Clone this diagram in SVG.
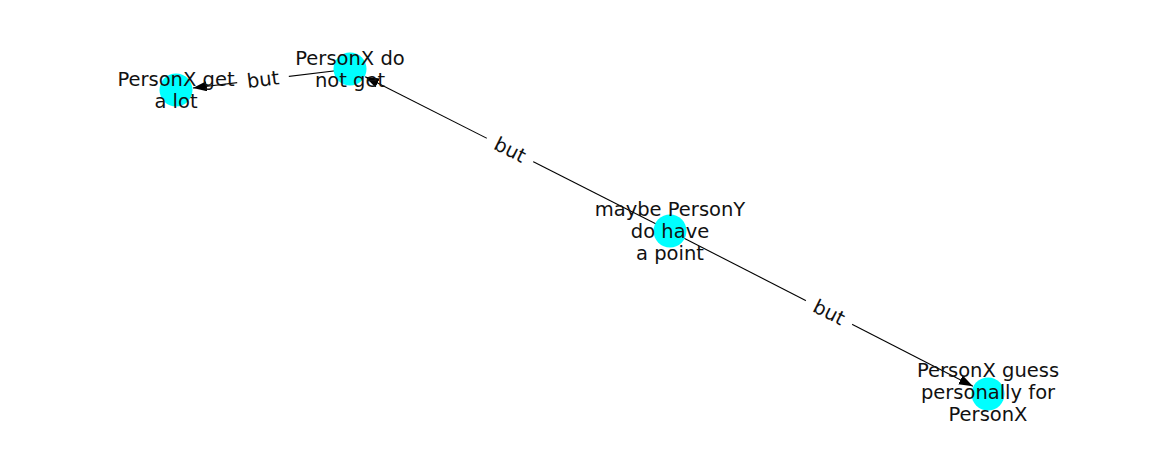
<svg xmlns="http://www.w3.org/2000/svg" width="1162" height="462" viewBox="0 0 1162 462">
<style>
.edge{stroke:#000;stroke-width:1.1;fill:none}
.node circle{fill:#00ffff}
text{font-family:"DejaVu Sans",sans-serif;font-size:19.5px;fill:#111;text-anchor:middle;dominant-baseline:central}
.lblbg{fill:#fff}
</style>
<defs>
<marker id="arr" markerUnits="userSpaceOnUse" markerWidth="16" markerHeight="12" refX="14" refY="5" orient="auto" viewBox="0 0 16 12">
<path d="M0,0 L14,5 L0,10 z" fill="#000"/>
</marker>
</defs>
<rect width="1162" height="462" fill="#fff"/>
<g id="edges">
<line class="edge" x1="350" y1="69" x2="192.9" y2="88" marker-end="url(#arr)"/>
<line class="edge" x1="670" y1="231" x2="365.2" y2="76.7" marker-end="url(#arr)"/>
<line class="edge" x1="670" y1="231" x2="972.9" y2="386.2" marker-end="url(#arr)"/>
</g>
<g id="nodes">
<g id="n_get_a_lot" class="node"><circle cx="176" cy="90" r="16.5"/></g>
<g id="n_do_not_get" class="node"><circle cx="350" cy="69" r="16.5"/></g>
<g id="n_maybe" class="node"><circle cx="670" cy="231" r="16.5"/></g>
<g id="n_guess" class="node"><circle cx="988" cy="394" r="16.5"/></g>
</g>
<g id="edge-labels">
<g transform="translate(263,79.5) rotate(-6.9)"><rect class="lblbg" x="-26" y="-12" width="52" height="24" rx="4"/><text x="0" y="0">but</text></g>
<g transform="translate(510,150) rotate(26.85)"><rect class="lblbg" x="-26" y="-12" width="52" height="24" rx="4"/><text x="0" y="0">but</text></g>
<g transform="translate(829,312.5) rotate(26.85)"><rect class="lblbg" x="-26" y="-12" width="52" height="24" rx="4"/><text x="0" y="0">but</text></g>
</g>
<g id="node-labels">
<text x="176" y="79">PersonX get</text><text x="176" y="101">a lot</text>
<text x="350" y="58">PersonX do</text><text x="350" y="80">not get</text>
<text x="670" y="209">maybe PersonY</text><text x="670" y="231">do have</text><text x="670" y="253">a point</text>
<text x="988" y="370">PersonX guess</text><text x="988" y="392">personally for</text><text x="988" y="414">PersonX</text>
</g>
</svg>
